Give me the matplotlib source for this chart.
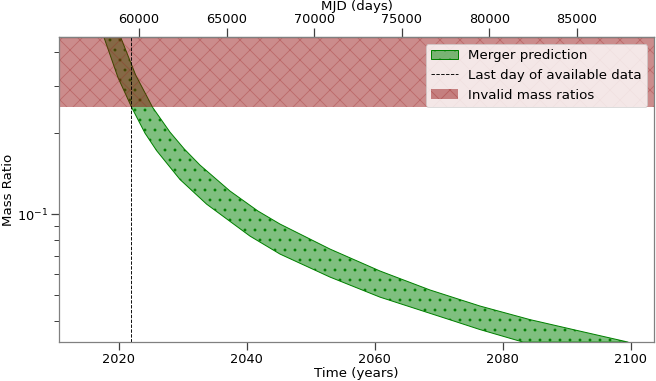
import numpy as np
import matplotlib
matplotlib.use('Agg')
import matplotlib.pyplot as plt
from matplotlib.ticker import NullFormatter, LogLocator

# ---- data ----
lower_years = [2017.65, 2019.84, 2021.99, 2024.07, 2025.89, 2029.54, 2033.71,
               2040.48, 2045.17, 2052.99, 2060.81, 2072.80, 2076.44, 2083.21]
lower_q = [0.454, 0.322, 0.249, 0.1998, 0.172, 0.1344, 0.1088,
           0.0828, 0.0710, 0.0583, 0.0491, 0.0397, 0.0372, 0.0334]

upper_years = [2020.27, 2022.60, 2025.27, 2027.97, 2030.21, 2032.66, 2037.35,
               2041.73, 2045.17, 2052.99, 2060.81, 2068.62, 2076.44, 2084.26,
               2092.08, 2099.63]
upper_q = [0.454, 0.329, 0.249, 0.2017, 0.1745, 0.1521, 0.1218, 0.1026,
           0.0918, 0.0741, 0.0614, 0.0522, 0.0455, 0.0405, 0.0367, 0.0334]

last_data_year = 2021.93
invalid_q_range = [0.25, 1.0]
x_ticks = [2020, 2040, 2060, 2080, 2100]
mjd_ticks = [60000, 65000, 70000, 75000, 80000, 85000]

DPI = 60
W, H = 656, 381
fig = plt.figure(figsize=(W / DPI, H / DPI), dpi=DPI)
L, R, T, B = 59.3, 654.0, 37.3, 342.0
ax = fig.add_axes([L / W, 1 - B / H, (R - L) / W, (B - T) / H])

poly_x = np.concatenate([lower_years, upper_years[::-1]])
poly_y = np.concatenate([lower_q, upper_q[::-1]])
ax.fill(poly_x, poly_y, facecolor=(0, 0.5, 0, 0.5), edgecolor='green',
        lw=1.2, hatch='.', label='Merger prediction')
ax.axvline(last_data_year, color='black', ls='--', lw=1.1,
           label='Last day of available data')
ax.axhspan(invalid_q_range[0], invalid_q_range[1],
           facecolor=(0.55, 0, 0, 0.45), edgecolor=(0.6, 0.1, 0.1, 0.3),
           lw=0, hatch='x', label='Invalid mass ratios')

ax.set_yscale('log')
ax.set_ylim(0.03344, 0.454)
ax.set_xlim(2010.67, 2103.65)
ax.set_xticks(x_ticks)
ax.yaxis.set_major_locator(LogLocator(base=10))
ax.yaxis.set_minor_locator(LogLocator(base=10, subs=np.arange(2, 10)))
ax.yaxis.set_minor_formatter(NullFormatter())

ax.set_xlabel('Time (years)', fontsize=16, labelpad=1)
ax.set_ylabel('Mass Ratio', fontsize=16, labelpad=2)

tick_col = '0.25'
for s in ax.spines.values():
    s.set_color('gray')
    s.set_linewidth(1.5)
ax.tick_params(axis='both', which='major', labelsize=15.5, length=10,
               width=1.5, color=tick_col)
ax.tick_params(axis='both', which='minor', length=6, width=1.2, color=tick_col)

def yr2mjd(y):
    return (np.asarray(y) - 2000.0) * 365.25 + 51544.5

def mjd2yr(m):
    return (np.asarray(m) - 51544.5) / 365.25 + 2000.0

sec = ax.secondary_xaxis('top', functions=(yr2mjd, mjd2yr))
sec.set_xticks(mjd_ticks)
sec.set_xlabel('MJD (days)', fontsize=16, labelpad=3)
sec.tick_params(axis='x', which='major', labelsize=15.5, length=10.5,
                width=1.5, color=tick_col)
for s in sec.spines.values():
    s.set_color('gray')
    s.set_linewidth(1.5)

ax.legend(loc='upper right', fontsize=16, framealpha=0.8)

fig.savefig('out.png', dpi=DPI)
